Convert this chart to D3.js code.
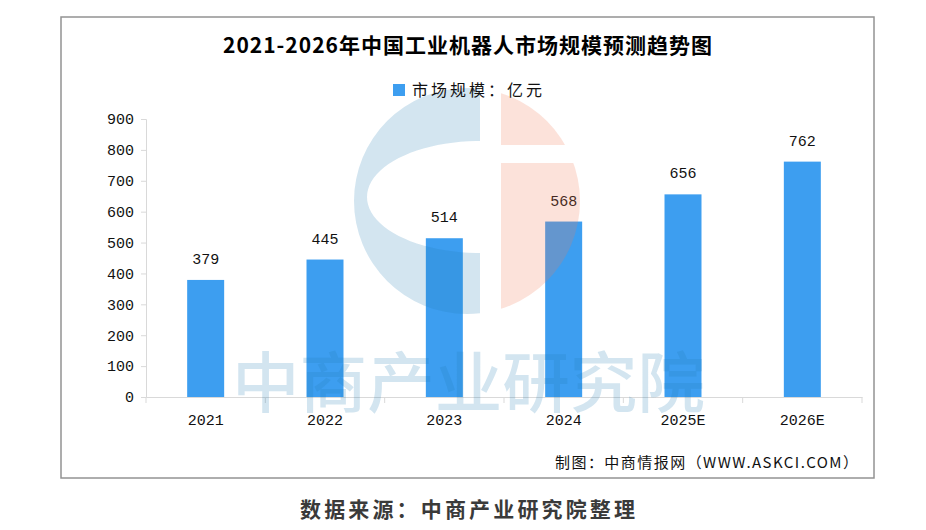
<!DOCTYPE html>
<html>
<head>
<meta charset="utf-8">
<script src="https://cdn.jsdelivr.net/npm/d3@7"></script>
<style>
  html, body { margin: 0; padding: 0; background: #fff; }
  svg { display: block; }
</style>
</head>
<body>
<div id="wrapper"></div>
<script>
/*global d3*/

// data
const years = ["2021", "2022", "2023", "2024", "2025E", "2026E"]
const marketSize = [379, 445, 514, 568, 656, 762]
const yTickValues = [0, 100, 200, 300, 400, 500, 600, 700, 800, 900]

const titleText = "2021-2026年中国工业机器人市场规模预测趋势图"
const legendText = "市场规模：亿元"
const creditText = "制图：中商情报网（WWW.ASKCI.COM）"
const sourceText = "数据来源：中商产业研究院整理"
const watermarkText = "中商产业研究院"

function drawChart() {
    const numFont = "'Liberation Mono', 'DejaVu Sans Mono', monospace"
    const cjkFont = "'Noto Sans CJK SC', 'Noto Sans', sans-serif"

    const dims = {
        width: 926,
        height: 530,
        margin: { top: 119, right: 64, bottom: 133, left: 146 },
    }
    dims.boundedWidth = dims.width - dims.margin.left - dims.margin.right
    dims.boundedHeight = dims.height - dims.margin.top - dims.margin.bottom

    const wrapper = d3.select("#wrapper")
        .append("svg")
        .attr("width", dims.width)
        .attr("height", dims.height)

    // outer frame
    wrapper.append("rect")
        .attr("x", 61)
        .attr("y", 17)
        .attr("width", 813)
        .attr("height", 461)
        .attr("fill", "#fff")
        .attr("stroke", "#939393")
        .attr("stroke-width", 1.5)

    const bounds = wrapper.append("g")
        .attr("transform", `translate(${dims.margin.left},${dims.margin.top})`)

    // scales
    const xScale = d3.scaleBand()
        .domain(years)
        .range([0, dims.boundedWidth])
        .paddingInner(0.69)
        .paddingOuter(0.345)

    const yScale = d3.scaleLinear()
        .domain([0, 900])
        .range([dims.boundedHeight, 0])

    // bars
    bounds.append("g")
        .selectAll("rect")
        .data(marketSize)
        .join("rect")
        .attr("x", (d, i) => xScale(years[i]))
        .attr("y", d => yScale(d))
        .attr("width", xScale.bandwidth())
        .attr("height", d => dims.boundedHeight - yScale(d))
        .attr("fill", "#3d9ef0")

    // axes
    const yAxis = bounds.append("g")
        .call(d3.axisLeft(yScale).tickValues(yTickValues).tickSize(5).tickPadding(7))
    yAxis.select(".domain").attr("stroke", "#d9d9d9")
    yAxis.selectAll(".tick line").attr("stroke", "#d9d9d9")
    yAxis.selectAll(".tick text")
        .attr("fill", "#111")
        .style("font-family", numFont)
        .style("font-size", "15px")

    const xAxis = bounds.append("g")
        .attr("transform", `translate(0,${dims.boundedHeight})`)
        .call(d3.axisBottom(xScale).tickSize(0).tickPadding(17))
    xAxis.select(".domain").attr("stroke", "#d9d9d9")
    xAxis.selectAll(".tick text")
        .attr("fill", "#111")
        .style("font-family", numFont)
        .style("font-size", "15px")

    // category boundary ticks
    const step = xScale.step()
    xAxis.append("g")
        .selectAll("line")
        .data(d3.range(years.length + 1))
        .join("line")
        .attr("x1", i => i * step)
        .attr("x2", i => i * step)
        .attr("y1", 0)
        .attr("y2", 6)
        .attr("stroke", "#d9d9d9")

    // watermark (logo + text), drawn over the bars with low opacity
    const defs = wrapper.append("defs")
    const cx = 467, cy = 201, r = 113
    defs.append("clipPath").attr("id", "clipBlue")
        .append("rect").attr("x", 300).attr("y", 60).attr("width", 180).attr("height", 300)
    const clipSalmon = defs.append("clipPath").attr("id", "clipSalmon")
    clipSalmon.append("rect").attr("x", 501).attr("y", 60).attr("width", 120).attr("height", 85)
    clipSalmon.append("rect").attr("x", 501).attr("y", 163).attr("width", 120).attr("height", 200)

    // inner hole of the "G"
    const holePts = d3.range(0, 361, 4).map(a => [
        480 + 113 * Math.cos(a * Math.PI / 180),
        197 + 56 * Math.sin(a * Math.PI / 180),
    ])
    const blueD = `M${cx + r},${cy}A${r},${r} 0 1,1 ${cx - r},${cy}A${r},${r} 0 1,1 ${cx + r},${cy}Z` +
        d3.line()(holePts) + "Z"

    const mark = wrapper.append("g").style("pointer-events", "none")
    mark.append("path")
        .attr("d", blueD)
        .attr("fill-rule", "evenodd")
        .attr("clip-path", "url(#clipBlue)")
        .attr("fill", "#237db4")
        .attr("fill-opacity", 0.2)
    mark.append("circle")
        .attr("cx", cx)
        .attr("cy", cy)
        .attr("r", r)
        .attr("clip-path", "url(#clipSalmon)")
        .attr("fill", "#f07a55")
        .attr("fill-opacity", 0.22)
    mark.append("text")
        .attr("x", 232)
        .attr("y", 407)
        .attr("textLength", 473)
        .attr("lengthAdjust", "spacingAndGlyphs")
        .text(watermarkText)
        .attr("fill", "#237db4")
        .attr("fill-opacity", 0.2)
        .style("font-family", cjkFont)
        .style("font-weight", 500)
        .style("font-size", "66px")

    // value labels
    bounds.append("g")
        .selectAll("text")
        .data(marketSize)
        .join("text")
        .attr("x", (d, i) => xScale(years[i]) + xScale.bandwidth() / 2)
        .attr("y", d => yScale(d) - 16)
        .text(d => d)
        .style("text-anchor", "middle")
        .attr("fill", "#111")
        .style("font-family", numFont)
        .style("font-size", "15px")

    // title
    wrapper.append("text")
        .attr("x", 223)
        .attr("y", 53)
        .attr("textLength", 489)
        .attr("lengthAdjust", "spacing")
        .text(titleText)
        .attr("fill", "#000")
        .style("font-family", cjkFont)
        .style("font-weight", "bold")
        .style("font-size", "21px")

    // legend
    wrapper.append("rect")
        .attr("x", 393)
        .attr("y", 84)
        .attr("width", 12)
        .attr("height", 12)
        .attr("fill", "#3d9ef0")
    wrapper.append("text")
        .attr("x", 412)
        .attr("y", 96)
        .attr("textLength", 130)
        .attr("lengthAdjust", "spacing")
        .text(legendText)
        .attr("fill", "#111")
        .style("font-family", cjkFont)
        .style("font-size", "16px")

    // credit line inside the frame
    wrapper.append("text")
        .attr("x", 555)
        .attr("y", 468)
        .attr("textLength", 303)
        .attr("lengthAdjust", "spacing")
        .text(creditText)
        .attr("fill", "#111")
        .style("font-family", cjkFont)
        .style("font-size", "15px")

    // source caption below the frame
    wrapper.append("text")
        .attr("x", 300)
        .attr("y", 517)
        .attr("textLength", 335)
        .attr("lengthAdjust", "spacing")
        .text(sourceText)
        .attr("fill", "#3a3a3a")
        .style("font-family", cjkFont)
        .style("font-weight", "bold")
        .style("font-size", "21px")
}

drawChart()
</script>
</body>
</html>
